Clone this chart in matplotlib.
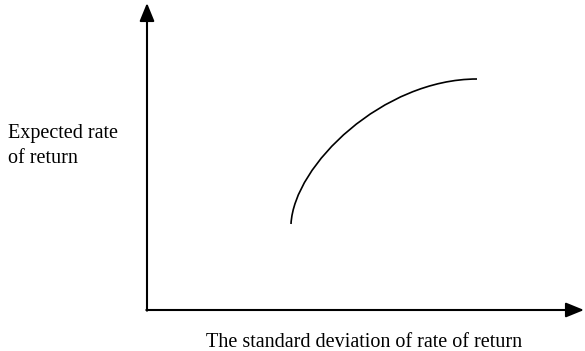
import matplotlib.pyplot as plt
from matplotlib.path import Path
from matplotlib.patches import PathPatch

# efficient frontier as a cubic Bezier, pixels from the axis origin
risk = [144, 147, 236, 330]
ret = [86, 145, 231, 231]

x_label = "The standard deviation of rate of return"
y_label = "Expected rate\nof return"

plt.rcParams["font.family"] = ["Liberation Serif", "DejaVu Serif"]

fig = plt.figure(figsize=(5.85, 3.51), dpi=100)
ax = fig.add_axes([0, 0, 1, 1])
ax.set_xlim(-147, 438)
ax.set_ylim(-41, 310)
ax.axis("off")

arrow = dict(arrowstyle="-|>,head_length=1.1,head_width=0.45", color="black",
             lw=1.5, shrinkA=0, shrinkB=0)
ax.annotate("", xy=(437, 0), xytext=(-0.7, 0), arrowprops=arrow)
ax.annotate("", xy=(0, 307), xytext=(0, -0.7), arrowprops=arrow)

frontier = Path(list(zip(risk, ret)),
                [Path.MOVETO, Path.CURVE4, Path.CURVE4, Path.CURVE4])
ax.add_patch(PathPatch(frontier, facecolor="none", edgecolor="black", lw=1.2))

ax.text(-139, 186, y_label, fontsize=14.5, va="top", ha="left", linespacing=1.4)
ax.text(217, -37, x_label, fontsize=14.5, va="baseline", ha="center")

fig.savefig("out.png", dpi=100)
